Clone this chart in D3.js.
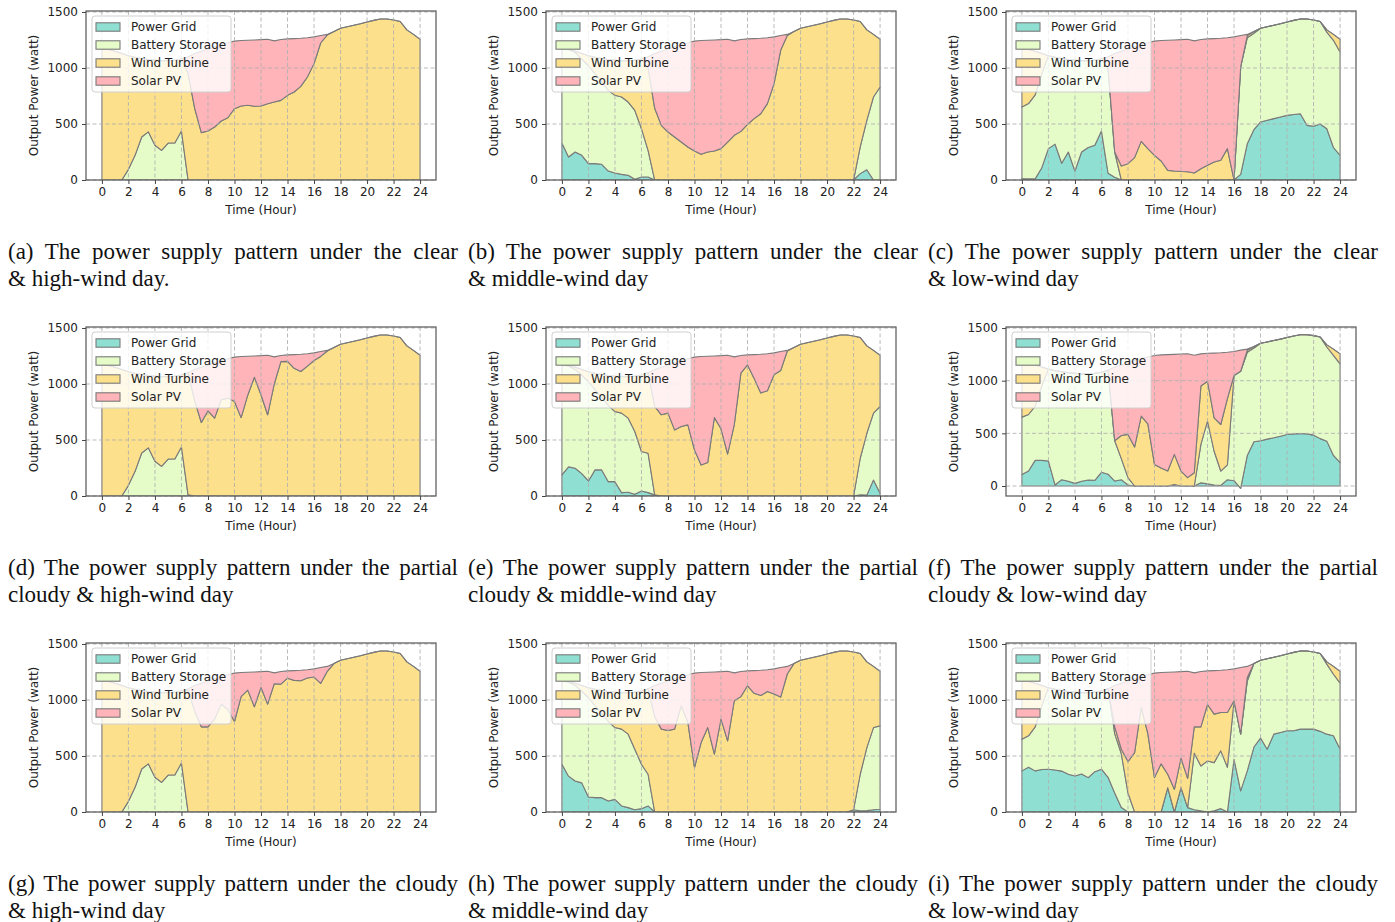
<!DOCTYPE html>
<html>
<head>
<meta charset="utf-8">
<script src="https://d3js.org/d3.v7.min.js"></script>
<style>
 body { margin:0; background:#fff; }
 #wrap { position:relative; width:1395px; height:922px; overflow:hidden; }
 svg { position:absolute; left:0; top:0; }
 .cap {
	 position:absolute;
	 width:450px;
	 font-family:"Liberation Serif","Times New Roman",serif;
	 font-size:23px;
	 line-height:27px;
	 color:#111;
 }
 .cap .l1 { text-align:justify; text-align-last:justify; }
</style>
</head>
<body>
<div id="wrap"><svg width="1395" height="922"></svg></div>
<script>
// half-hour samples, 0..24 h
const hours = [0,0.5,1,1.5,2,2.5,3,3.5,4,4.5,5,5.5,6,6.5,7,7.5,8,8.5,9,9.5,
	10,10.5,11,11.5,12,12.5,13,13.5,14,14.5,15,15.5,16,16.5,17,17.5,18,18.5,19,19.5,
	20,20.5,21,21.5,22,22.5,23,23.5,24];
const xTicks = [0,2,4,6,8,10,12,14,16,18,20,22,24];
const yTicks = [0,500,1000,1500];
const seriesNames = ["Power Grid","Battery Storage","Wind Turbine","Solar PV"];
const seriesColors = ["#8fe0d2","#e5fcc9","#fce08b","#ffb4b9"];

// (a) clear & high-wind
const gridA = [0,0,0,0,0,0,0,0,0,0, 0,0,0,0,0,0,0,0,0,0, 0,0,0,0,0,0,0,0,0,0, 0,0,0,0,0,0,0,0,0,0, 0,0,0,0,0,0,0,0,0];
const batteryA = [0,0,0,0,95,220,384,430,310,265, 330,330,437,0,0,0,0,0,0,0, 0,0,0,0,0,0,0,0,0,0, 0,0,0,0,0,0,0,0,0,0, 0,0,0,0,0,0,0,0,0];
const windA = [1170,1165,1150,1130,1015,875,701,645,760,800, 735,740,643,950,640,423,437,473,527,556,
	637,660,667,658,661,681,696,711,756,786, 836,920,1039,1223,1295,1325,1355,1368,1382,1395,
	1410,1425,1437,1437,1428,1415,1340,1300,1255];
const solarA = [0,0,0,0,0,0,0,0,0,0, 0,0,0,150,490,727,733,717,683,669,
	603,585,581,592,592,575,546,544,504,476, 429,350,239,67,5,0,0,0,0,0, 0,0,0,0,0,0,0,0,0];

// (b) clear & middle-wind
const gridB = [330,205,250,220,146,146,140,80,62,50, 42,6,27,27,0,0,0,0,0,0, 0,0,0,0,0,0,0,0,0,0, 0,0,0,0,0,0,0,0,0,0, 0,0,0,0,0,57,92,0,0];
const batteryB = [840,960,890,860,874,804,740,720,694,691, 654,616,431,238,0,0,0,0,0,0, 0,0,0,0,0,0,0,0,0,0, 0,0,0,0,0,0,0,0,0,0, 0,0,0,0,0,238,441,741,830];
const windB = [0,0,10,50,90,145,205,275,314,324, 369,448,622,735,640,488,428,384,339,295,
	259,229,250,259,280,339,399,434,497,548, 592,682,860,1158,1290,1325,1355,1368,1382,1395,
	1410,1425,1437,1437,1428,1120,807,559,425];
const solarB = [0,0,0,0,0,0,0,0,0,0, 0,0,0,100,490,662,742,806,871,930,
	981,1016,998,991,973,917,843,821,763,714, 673,588,418,132,10,0,0,0,0,0, 0,0,0,0,0,0,0,0,0];

// (c) clear & low-wind
const gridC = [12,10,10,110,280,320,150,250,80,250, 290,310,437,60,25,0,0,0,0,0, 0,0,0,0,0,0,0,0,0,0,
	0,0,0,50,324,450,518,533,548,562, 577,585,592,488,480,500,458,290,220];
const batteryC = [640,672,750,840,830,775,935,825,990,815, 775,760,643,940,225,0,0,0,0,0, 0,0,0,0,0,0,0,0,0,0,
	0,0,0,959,946,860,837,835,834,833, 833,840,845,949,948,915,862,957,923];
const windC = [518,483,390,180,0,0,0,0,0,0, 0,0,0,0,0,125,146,200,345,280,
	220,170,86,80,76,74,62,101,131,161, 176,280,0,0,20,15,0,0,0,0, 0,0,0,0,0,0,20,53,112];
const solarC = [0,0,0,0,0,0,0,0,0,0, 0,0,0,100,880,1025,1024,990,865,945,
	1020,1075,1162,1170,1177,1182,1180,1154,1129,1101, 1089,990,1278,281,10,0,0,0,0,0, 0,0,0,0,0,0,0,0,0];

// (d) partial cloudy & high-wind
const gridD = [0,0,0,0,0,0,0,0,0,0, 0,0,0,0,0,0,0,0,0,0, 0,0,0,0,0,0,0,0,0,0, 0,0,0,0,0,0,0,0,0,0, 0,0,0,0,0,0,0,0,0];
const batteryD = [0,0,0,0,95,220,384,430,310,265, 330,330,437,10,0,0,0,0,0,0, 0,0,0,0,0,0,0,0,0,0, 0,0,0,0,0,0,0,0,0,0, 0,0,0,0,0,0,0,0,0];
const windD = [1170,1165,1150,1130,1015,875,701,645,760,800, 735,740,643,1090,850,656,760,695,860,874,
	844,700,900,1060,904,725,1000,1200,1202,1140, 1112,1160,1210,1246,1295,1325,1355,1368,1382,1395,
	1410,1425,1437,1437,1428,1415,1340,1300,1255];
const solarD = [0,0,0,0,0,0,0,0,0,0, 0,0,0,0,280,494,410,495,350,351,
	396,545,348,190,349,531,242,55,58,122, 153,110,68,44,5,0,0,0,0,0, 0,0,0,0,0,0,0,0,0];

// (e) partial cloudy & middle-wind
const gridE = [188,260,248,200,134,233,233,128,128,30, 33,15,45,30,10,0,0,0,0,0, 0,0,0,0,0,0,0,0,0,0, 0,0,0,0,0,0,0,0,0,0, 0,0,0,0,0,10,8,143,24];
const batteryE = [982,900,882,880,886,717,647,682,626,710, 662,561,352,352,0,0,0,0,0,0, 0,0,0,0,0,0,0,0,0,0, 0,0,0,0,0,0,0,0,0,0, 0,0,0,0,0,327,552,597,775];
const windE = [0,5,20,50,90,145,205,265,316,325, 370,494,683,718,790,725,740,590,620,635,
	412,277,300,700,600,375,635,1097,1170,1050, 920,940,1082,1120,1295,1325,1355,1368,1382,1395,
	1410,1425,1437,1437,1428,1078,780,560,456];
const solarE = [0,0,0,0,0,0,0,0,0,0, 0,0,0,0,330,425,430,600,590,590,
	828,968,948,550,653,881,607,158,90,212, 345,330,196,170,5,0,0,0,0,0, 0,0,0,0,0,0,0,0,0];

// (f) partial cloudy & low-wind
const gridF = [110,142,243,243,237,10,60,45,25,45, 57,54,130,112,47,60,10,0,0,0, 0,0,0,15,0,0,0,30,20,10,
	5,60,50,-22,290,420,430,445,458,473, 489,495,499,495,483,450,426,290,221];
const batteryF = [544,537,515,707,873,1085,1025,1030,1045,1020, 1008,1016,950,988,383,200,70,0,0,0,
	0,0,0,0,0,0,0,365,596,320, 137,140,1000,1112,980,890,925,923,924,922, 921,930,938,942,945,965,894,950,939];
const windF = [516,486,392,180,0,0,0,0,0,0, 0,0,0,0,0,220,410,370,663,590,
	205,170,142,285,142,79,126,555,379,317, 442,630,0,0,20,15,0,0,0,0, 0,0,0,0,0,0,20,60,95];
const solarF = [0,0,0,0,0,0,0,0,0,0, 0,0,0,0,700,670,680,820,547,635,
	1035,1075,1106,950,1111,1177,1116,305,265,615, 681,440,228,200,10,0,0,0,0,0, 0,0,0,0,0,0,0,0,0];

// (g) cloudy & high-wind
const gridG = [0,0,0,0,0,0,0,0,0,0, 0,0,0,0,0,0,0,0,0,0, 0,0,0,0,0,0,0,0,0,0, 0,0,0,0,0,0,0,0,0,0, 0,0,0,0,0,0,0,0,0];
const batteryG = [0,0,0,0,95,220,384,430,310,265, 330,330,437,0,0,0,0,0,0,0, 0,0,0,0,0,0,0,0,0,0, 0,0,0,0,0,0,0,0,0,0, 0,0,0,0,0,0,0,0,0];
const windG = [1170,1165,1150,1130,1015,875,701,645,760,800, 735,740,643,1090,900,760,760,829,963,915,
	808,1030,1088,939,1112,963,1145,1142,1195,1175, 1172,1196,1205,1148,1256,1325,1355,1368,1382,1395,
	1410,1425,1437,1437,1428,1415,1340,1300,1255];
const solarG = [0,0,0,0,0,0,0,0,0,0, 0,0,0,10,230,390,410,361,247,310,
	432,215,160,311,141,293,97,113,65,87, 93,74,73,142,44,0,0,0,0,0, 0,0,0,0,0,0,0,0,0];

// (h) cloudy & middle-wind
const gridH = [426,320,277,260,134,128,128,98,113,54, 39,20,30,54,0,0,0,0,0,0, 0,0,0,0,0,0,0,0,0,0, 0,0,0,0,0,0,0,0,0,0, 0,0,0,0,20,10,12,20,24];
const batteryH = [744,840,853,820,886,822,752,712,641,686, 656,541,396,283,0,0,0,0,0,0, 0,0,0,0,0,0,0,0,0,0, 0,0,0,0,0,0,0,0,0,0, 0,0,0,0,0,327,563,734,745];
const windH = [0,5,20,50,90,145,205,265,316,325, 370,509,654,763,850,740,728,740,948,800,
	397,620,754,516,829,635,993,1030,1127,1060, 1040,1075,1053,1026,1232,1325,1355,1368,1382,1395,
	1410,1425,1437,1437,1408,1078,765,546,486];
const solarH = [0,0,0,0,0,0,0,0,0,0, 0,0,0,0,280,410,442,450,262,425,
	843,625,494,734,424,621,249,225,133,202, 225,195,225,264,68,0,0,0,0,0, 0,0,0,0,0,0,0,0,0];

// (i) cloudy & low-wind
const gridI = [367,400,367,380,382,375,365,337,322,340, 307,360,382,310,170,40,0,0,0,0, 0,0,218,0,218,39,20,10,0,10,
	30,0,471,188,367,580,660,560,695,710, 725,725,740,740,740,720,695,680,561];
const batteryI = [283,280,393,570,728,720,720,738,748,725, 758,710,698,790,530,480,170,0,0,0,
	0,0,0,0,0,0,505,401,456,431, 516,400,522,507,803,745,695,808,687,685, 685,700,697,697,688,695,625,550,589];
const windI = [520,485,390,180,0,0,0,0,0,0, 0,0,0,0,60,40,280,530,933,700,
	307,430,119,203,262,261,235,349,504,433, 343,489,0,0,30,0,0,0,0,0, 0,0,0,0,0,0,20,70,105];
const solarI = [0,0,0,0,0,0,0,0,0,0, 0,0,0,0,370,590,720,660,277,525,
	933,815,911,1047,773,956,482,495,300,388, 376,381,285,595,100,0,0,0,0,0, 0,0,0,0,0,0,0,0,0];

const panels = [
	{grid:gridA, battery:batteryA, wind:windA, solar:solarA,
	 cap:["(a) The power supply pattern under the clear", "& high-wind day."]},
	{grid:gridB, battery:batteryB, wind:windB, solar:solarB,
	 cap:["(b) The power supply pattern under the clear", "& middle-wind day"]},
	{grid:gridC, battery:batteryC, wind:windC, solar:solarC,
	 cap:["(c) The power supply pattern under the clear", "& low-wind day"]},
	{grid:gridD, battery:batteryD, wind:windD, solar:solarD,
	 cap:["(d) The power supply pattern under the partial", "cloudy & high-wind day"]},
	{grid:gridE, battery:batteryE, wind:windE, solar:solarE,
	 cap:["(e) The power supply pattern under the partial", "cloudy & middle-wind day"]},
	{grid:gridF, battery:batteryF, wind:windF, solar:solarF,
	 cap:["(f) The power supply pattern under the partial", "cloudy & low-wind day"]},
	{grid:gridG, battery:batteryG, wind:windG, solar:solarG,
	 cap:["(g) The power supply pattern under the cloudy", "& high-wind day"]},
	{grid:gridH, battery:batteryH, wind:windH, solar:solarH,
	 cap:["(h) The power supply pattern under the cloudy", "& middle-wind day"]},
	{grid:gridI, battery:batteryI, wind:windI, solar:solarI,
	 cap:["(i) The power supply pattern under the cloudy", "& low-wind day"]}
];

const svg = d3.select('svg');
const wrap = d3.select('#wrap');
const colStep = 460, rowStep = 316;
const plotLeft = 86, plotTop = 11, pw = 350, ph = 169;
const keys = ["grid","battery","wind","solar"];
const tickFont = "DejaVu Sans, Verdana, sans-serif";
const fs = 12;

panels.forEach((p, k) => {
	const col = k % 3, row = Math.floor(k / 3);
	const left = plotLeft + col*colStep, top = plotTop + row*rowStep;

	const table = hours.map((h,i) => ({hour:h, grid:p.grid[i], battery:p.battery[i], wind:p.wind[i], solar:p.solar[i]}));
	const stacked = d3.stack().keys(keys)(table);

	// matplotlib-like limits: 5% margin, sticky at 0
	const lo = d3.min(stacked, s => d3.min(s, d => Math.min(d[0], d[1])));
	const hi = d3.max(stacked, s => d3.max(s, d => Math.max(d[0], d[1])));
	const pad = 0.05*(hi - lo);
	const x = d3.scaleLinear().domain([-1.2, 25.2]).range([0, pw]);
	const y = d3.scaleLinear().domain([lo < 0 ? lo - pad : 0, hi + pad]).range([ph, 0]);

	const g = svg.append('g').attr('transform', `translate(${left},${top})`);
	const clipId = 'clip' + k;
	g.append('clipPath').attr('id', clipId)
		.append('rect').attr('width', pw).attr('height', ph);

	const area = d3.area()
		.x(d => x(d.data.hour))
		.y0(d => y(d[0]))
		.y1(d => y(d[1]));

	g.append('g').attr('clip-path', `url(#${clipId})`)
		.selectAll('path')
		.data(stacked)
		.join('path')
		.attr('d', area)
		.attr('fill', (d,i) => seriesColors[i])
		.attr('stroke', '#7a7a7a')
		.attr('stroke-width', 1.1)
		.attr('stroke-linejoin', 'round');

	// dashed grid on top
	const grid = g.append('g')
		.attr('stroke', '#b0b0b0')
		.attr('stroke-width', 1)
		.attr('stroke-dasharray', '4,2.5')
		.attr('opacity', 0.85);
	grid.selectAll('.gx').data(xTicks).join('line')
		.attr('x1', d => x(d)).attr('x2', d => x(d))
		.attr('y1', 0).attr('y2', ph);
	grid.selectAll('.gy').data(yTicks).join('line')
		.attr('x1', 0).attr('x2', pw)
		.attr('y1', d => y(d)).attr('y2', d => y(d));

	// frame
	g.append('rect')
		.attr('width', pw).attr('height', ph)
		.attr('fill', 'none')
		.attr('stroke', '#555')
		.attr('stroke-width', 1.2);

	const styleAxis = ax => {
		ax.select('.domain').remove();
		ax.selectAll('.tick line').attr('stroke', '#444');
		ax.selectAll('.tick text').attr('fill', '#222')
			.attr('font-family', tickFont).attr('font-size', fs);
	};

	g.append('g')
		.attr('transform', `translate(0,${ph})`)
		.call(d3.axisBottom(x).tickValues(xTicks).tickSize(4).tickPadding(3.5))
		.call(styleAxis);
	g.append('g')
		.call(d3.axisLeft(y).tickValues(yTicks).tickFormat(d3.format('d')).tickSize(4).tickPadding(4))
		.call(styleAxis);

	g.append('text')
		.attr('x', pw/2).attr('y', ph + 34)
		.attr('text-anchor', 'middle')
		.attr('font-family', tickFont).attr('font-size', fs).attr('fill', '#222')
		.text('Time (Hour)');
	g.append('text')
		.attr('transform', `translate(${-52},${ph/2}) rotate(-90)`)
		.attr('text-anchor', 'middle')
		.attr('dy', '0.35em')
		.attr('font-family', tickFont).attr('font-size', fs).attr('fill', '#222')
		.text('Output Power (watt)');

	// legend
	const lg = g.append('g').attr('transform', 'translate(6,5)');
	lg.append('rect')
		.attr('width', 139).attr('height', 76)
		.attr('rx', 3)
		.attr('fill', '#fff').attr('fill-opacity', 0.8)
		.attr('stroke', '#d0d0d0');
	seriesNames.forEach((name, i) => {
		const yy = 11 + i*18;
		lg.append('rect')
			.attr('x', 4).attr('y', yy - 4.2)
			.attr('width', 24).attr('height', 8.4)
			.attr('fill', seriesColors[i])
			.attr('stroke', '#7a7a7a').attr('stroke-width', 1.1);
		lg.append('text')
			.attr('x', 39).attr('y', yy).attr('dy', '0.35em')
			.attr('font-family', tickFont).attr('font-size', fs).attr('fill', '#222')
			.text(name);
	});

	// caption
	const cap = wrap.append('div').attr('class', 'cap')
		.style('left', (8 + col*colStep) + 'px')
		.style('top', (238 + row*rowStep) + 'px');
	cap.append('div').attr('class', 'l1').text(p.cap[0]);
	cap.append('div').text(p.cap[1]);
});
</script>
</body>
</html>
